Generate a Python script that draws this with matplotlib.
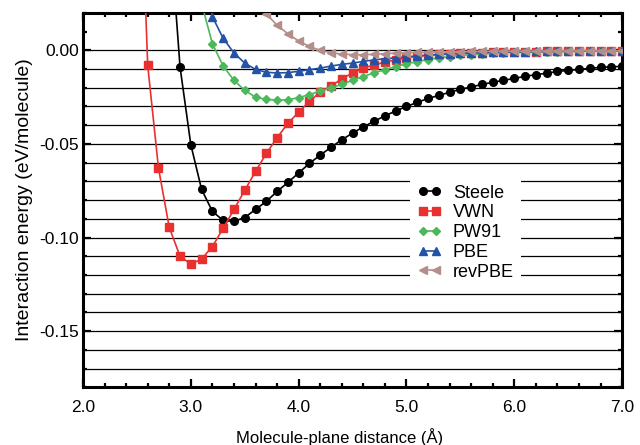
import numpy as np
import matplotlib.pyplot as plt
from matplotlib.ticker import MultipleLocator, FormatStrFormatter

plt.rcParams["font.family"] = ["Liberation Sans", "DejaVu Sans"]
plt.rcParams["axes.unicode_minus"] = False

# distances (Angstrom), one list per curve
x_steele = np.round(np.arange(2.8, 7.01, 0.1), 1)
x_vwn = np.round(np.arange(2.5, 7.01, 0.1), 1)
x_pw91 = np.round(np.arange(3.1, 7.01, 0.1), 1)
x_pbe = np.round(np.arange(3.1, 7.01, 0.1), 1)
x_revpbe = np.round(np.arange(3.6, 7.01, 0.1), 1)

steele = [
    0.069, -0.0089, -0.0504, -0.0743, -0.0860, -0.0909, -0.0914, -0.0893,
    -0.0850, -0.0807, -0.0754, -0.0706, -0.0655, -0.0604, -0.0560, -0.0518,
    -0.0478, -0.0442, -0.0409, -0.0379, -0.0350, -0.0324, -0.0300, -0.0278,
    -0.0257, -0.0241, -0.0224, -0.0208, -0.0196, -0.0182, -0.0171, -0.0160,
    -0.0150, -0.0139, -0.0130, -0.0122, -0.0113, -0.0107, -0.0102, -0.0096,
    -0.0091, -0.0088, -0.0086,
]
vwn = [
    0.15, -0.0080, -0.0629, -0.0946, -0.1100, -0.1142, -0.1115, -0.1048,
    -0.0951, -0.0850, -0.0748, -0.0647, -0.0551, -0.0467, -0.0390, -0.0331,
    -0.0272, -0.0224, -0.0190, -0.0153, -0.0120, -0.0096, -0.0077, -0.0064,
    -0.0050, -0.0039, -0.0032, -0.0026, -0.0022, -0.0019, -0.0016, -0.0014,
    -0.0012, -0.0011, -0.0010, -0.0009, -0.0008, -0.0007, -0.0006, -0.0006,
    -0.0005, -0.0005, -0.0004, -0.0004, -0.0003, -0.0003,
]
pw91 = [
    0.025, 0.0036, -0.0084, -0.0160, -0.0214, -0.0250, -0.0262, -0.0266,
    -0.0264, -0.0253, -0.0236, -0.0218, -0.0200, -0.0182, -0.0160, -0.0140,
    -0.0120, -0.0103, -0.0087, -0.0072, -0.0060, -0.0049, -0.0040, -0.0033,
    -0.0027, -0.0023, -0.0019, -0.0016, -0.0013, -0.0011, -0.0010, -0.0009,
    -0.0008, -0.0007, -0.0006, -0.0005, -0.0005, -0.0004, -0.0004, -0.0003,
]
pbe = [
    0.045, 0.0180, 0.0064, -0.0014, -0.0068, -0.0102, -0.0117, -0.0121,
    -0.0119, -0.0112, -0.0103, -0.0095, -0.0084, -0.0075, -0.0068, -0.0059,
    -0.0051, -0.0045, -0.0040, -0.0035, -0.0030, -0.0026, -0.0022, -0.0019,
    -0.0016, -0.0014, -0.0012, -0.0010, -0.0009, -0.0008, -0.0007, -0.0006,
    -0.0006, -0.0005, -0.0005, -0.0004, -0.0004, -0.0003, -0.0003, -0.0003,
]
revpbe = [
    0.030, 0.0195, 0.0134, 0.0089, 0.0050, 0.0021, 0.0000, -0.0012,
    -0.0020, -0.0023, -0.0023, -0.0021, -0.0018, -0.0015, -0.0013, -0.0011,
    -0.0010, -0.0009, -0.0008, -0.0007, -0.0006, -0.0006, -0.0005, -0.0005,
    -0.0004, -0.0004, -0.0004, -0.0003, -0.0003, -0.0003, -0.0002, -0.0002,
    -0.0002, -0.0002, -0.0002,
]

grid_levels = np.round(np.arange(-0.18, 0.001, 0.01), 2)


def make_plot():
    fig = plt.figure(figsize=(6.4, 4.45), dpi=100)
    ax = fig.add_axes([0.1297, 0.1297, 0.8423, 0.8413])

    for g in grid_levels:
        ax.axhline(g, color="black", lw=0.9, zorder=1)

    style = dict(lw=1.2, markersize=5.5, zorder=3)
    ax.plot(x_steele, steele, color="black", marker="o", label="Steele", **style)
    ax.plot(x_vwn, vwn, color="#e8302f", marker="s", label="VWN", **style)
    ax.plot(x_pw91, pw91, color="#4cb85a", marker="D", label="PW91",
            lw=1.2, markersize=4.5, zorder=3)
    ax.plot(x_pbe, pbe, color="#2353a6", marker="^", label="PBE", **style)
    ax.plot(x_revpbe, revpbe, color="#b48e8b", marker="<", label="revPBE", **style)

    ax.set_xlim(2.0, 7.0)
    ax.set_ylim(-0.18, 0.02)
    ax.xaxis.set_major_locator(MultipleLocator(1.0))
    ax.xaxis.set_minor_locator(MultipleLocator(0.2))
    ax.yaxis.set_major_locator(MultipleLocator(0.05))
    ax.yaxis.set_minor_locator(MultipleLocator(0.01))
    ax.xaxis.set_major_formatter(FormatStrFormatter("%.1f"))
    ax.yaxis.set_major_formatter(FormatStrFormatter("%.2f"))
    ax.tick_params(which="both", direction="in", top=True, right=True,
                   labelsize=12.5, colors="black")
    ax.tick_params(which="major", length=6, width=1.6)
    ax.tick_params(which="minor", length=3, width=1.6)
    ax.tick_params(axis="x", which="major", pad=9)
    ax.tick_params(axis="y", which="major", pad=3)
    for s in ax.spines.values():
        s.set_linewidth(2.2)

    ax.set_xlabel("Molecule-plane distance (\u00c5)", fontsize=12)
    ax.xaxis.set_label_coords(0.475, -0.11)
    ax.set_ylabel("Interaction energy (eV/molecule)", fontsize=14)
    ax.yaxis.set_label_coords(-0.093, 0.5)

    leg = ax.legend(loc="center", bbox_to_anchor=(0.71, 0.413), fontsize=13,
                    numpoints=2, handlelength=1.3, handletextpad=0.65,
                    labelspacing=0.15, borderpad=0.4, frameon=True,
                    fancybox=False, framealpha=1)
    leg.get_frame().set_edgecolor("none")
    leg.get_frame().set_facecolor("white")
    leg.set_zorder(5)

    fig.savefig("out.png", dpi=100)
    plt.close(fig)


if __name__ == "__main__":
    make_plot()
